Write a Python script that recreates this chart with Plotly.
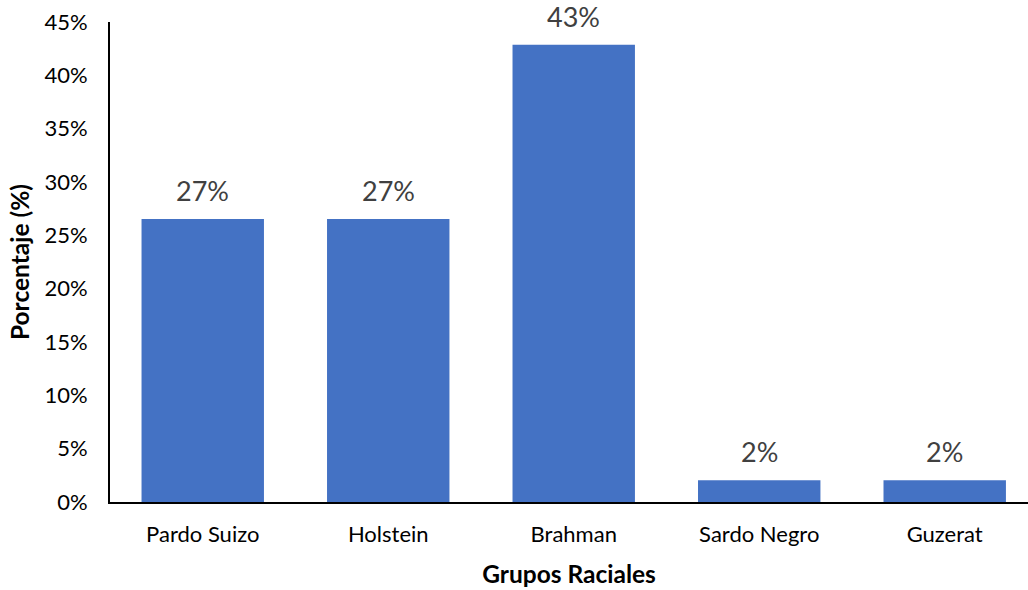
import plotly.graph_objects as go

# Distribución de grupos raciales (fracción del total)
razas = ["Pardo Suizo", "Holstein", "Brahman", "Sardo Negro", "Guzerat"]
porcentajes = [0.2653, 0.2653, 0.4286, 0.0204, 0.0204]
ticks_y = [0, 0.05, 0.10, 0.15, 0.20, 0.25, 0.30, 0.35, 0.40, 0.45]
ticks_y_texto = ["0%", "5%", "10%", "15%", "20%", "25%", "30%", "35%", "40%", "45%"]

fuente = "Lato, Carlito, Calibri, sans-serif"

fig = go.Figure(
    go.Bar(
        x=razas,
        y=porcentajes,
        marker=dict(color="#4472C4", line=dict(width=0)),
        hoverinfo="x+y",
    )
)

# Etiquetas de valor sobre cada barra
for raza, valor in zip(razas, porcentajes):
    fig.add_annotation(
        x=raza,
        y=valor,
        text=f"{valor:.0%}",
        showarrow=False,
        yanchor="bottom",
        yshift=11,
        borderpad=0,
        font=dict(family=fuente, size=27, color="#404040"),
    )

fig.update_layout(
    width=1028,
    height=590,
    margin=dict(l=110, r=0, t=22, b=88),
    paper_bgcolor="white",
    plot_bgcolor="white",
    bargap=0.34,
    showlegend=False,
    font=dict(family=fuente, size=22, color="#000000"),
)

fig.update_xaxes(
    range=[-0.5, 4.449],
    showline=True,
    linecolor="#000000",
    linewidth=2,
    ticks="",
    ticklabelstandoff=12,
    tickfont=dict(family=fuente, size=22, color="#000000"),
    title=dict(text="<b>Grupos Raciales</b>", font=dict(family=fuente, size=24.5, color="#000000"), standoff=19),
)

fig.update_yaxes(
    range=[0, 0.45],
    tickvals=ticks_y,
    ticktext=ticks_y_texto,
    showline=True,
    linecolor="#000000",
    linewidth=2,
    showgrid=False,
    zeroline=False,
    ticks="",
    ticklabelstandoff=16,
    tickfont=dict(family=fuente, size=22, color="#000000"),
    title=dict(text="<b>Porcentaje (%)</b>", font=dict(family=fuente, size=24.5, color="#000000"), standoff=8),
)

fig.write_html("out.html")
